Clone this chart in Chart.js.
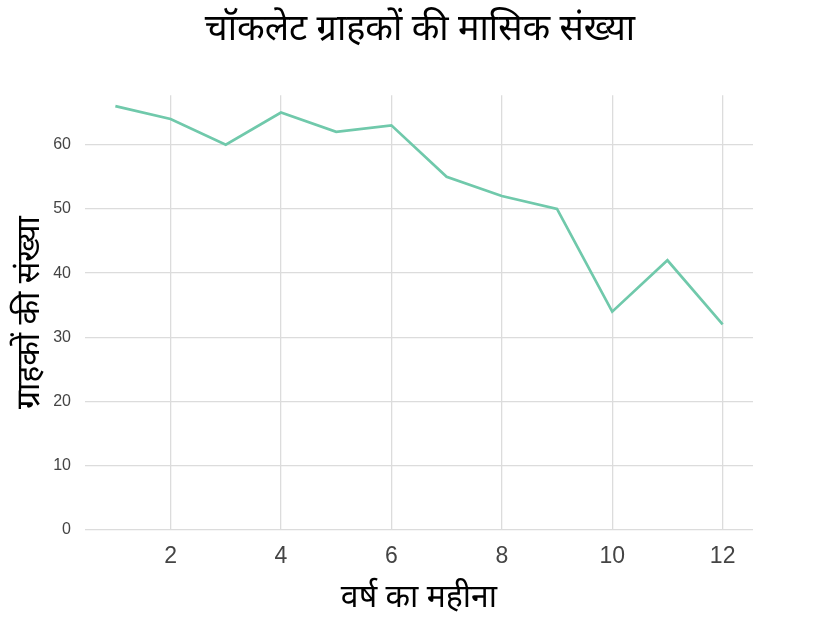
<!DOCTYPE html>
<html>
<head>
<meta charset="utf-8">
<script src="https://cdn.jsdelivr.net/npm/chart.js@4/dist/chart.umd.min.js"></script>
<style>
  html, body { margin: 0; padding: 0; background: #fff; }
  #wrap { width: 840px; height: 628px; }
</style>
</head>
<body>
<div id="wrap"><canvas id="js--chart"></canvas></div>
<script>
const months = [1, 2, 3, 4, 5, 6, 7, 8, 9, 10, 11, 12];
const customers = [66, 64, 60, 65, 62, 63, 55, 52, 50, 34, 42, 32];

const xTicks = [2, 4, 6, 8, 10, 12];
const yTicks = [0, 10, 20, 30, 40, 50, 60];

const titleText = "चॉकलेट ग्राहकों की मासिक संख्या";
const xTitle = "वर्ष का महीना";
const yTitle = "ग्राहकों की संख्या";

const hindiFont = "'Noto Sans', 'Noto Sans Devanagari', sans-serif";
const numFont = "'Liberation Sans', Arial, sans-serif";

const points = months.map(function (m, i) {
    return { x: m, y: customers[i] };
});

const data = {
    datasets: [{
        label: yTitle,
        data: points,
        borderColor: '#70c9ab',
        borderWidth: 2.7,
        pointRadius: 0,
        tension: 0,
        fill: false
    }]
};

const config = {
    type: 'line',
    data: data,
    options: {
        responsive: false,
        animation: false,
        layout: { padding: 0 },
        plugins: {
            legend: { display: false },
            tooltip: { enabled: false },
            title: {
                display: true,
                text: titleText,
                color: '#000',
                font: { family: hindiFont, size: 36, weight: 'normal' },
                padding: { top: 8, bottom: 44 }
            }
        },
        scales: {
            x: {
                type: 'linear',
                min: 0.45,
                max: 12.55,
                afterBuildTicks: function (scale) {
                    scale.ticks = xTicks.map(function (v) { return { value: v }; });
                },
                afterFit: function (scale) { scale.height = 98; },
                grid: { color: '#dcdcdc', lineWidth: 1.3, drawTicks: false },
                border: { display: false },
                ticks: {
                    color: '#444',
                    padding: 13,
                    font: { family: numFont, size: 23 }
                },
                title: {
                    display: true,
                    text: xTitle,
                    color: '#000',
                    font: { family: hindiFont, size: 32 },
                    padding: { top: 0, bottom: 11 }
                }
            },
            y: {
                min: 0,
                max: 67.7,
                afterBuildTicks: function (scale) {
                    scale.ticks = yTicks.map(function (v) { return { value: v }; });
                },
                afterFit: function (scale) { scale.width = 85; },
                grid: { color: '#dcdcdc', lineWidth: 1.3, drawTicks: false },
                border: { display: false },
                ticks: {
                    color: '#444',
                    padding: 14,
                    font: { family: numFont, size: 16 }
                },
                title: {
                    display: true,
                    text: yTitle,
                    color: '#000',
                    font: { family: hindiFont, size: 32 },
                    padding: { top: 11, bottom: 0 }
                }
            },
            yRight: {
                position: 'right',
                display: true,
                afterFit: function (scale) { scale.width = 87; },
                grid: { display: false },
                border: { display: false },
                ticks: { display: false }
            }
        }
    }
};

const canvas = document.getElementById("js--chart");
canvas.width = 840;
canvas.height = 628;
new Chart(canvas, config);
</script>
</body>
</html>
